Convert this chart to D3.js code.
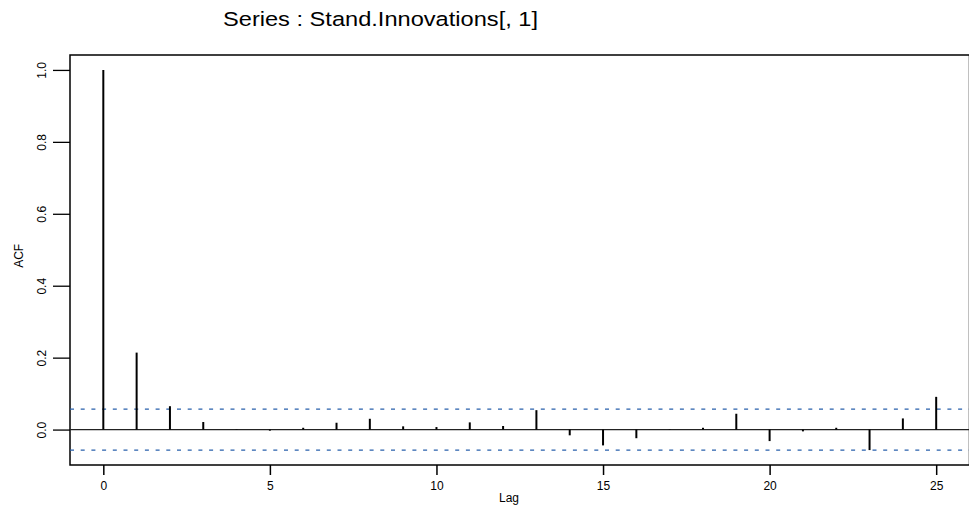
<!DOCTYPE html>
<html>
<head>
<meta charset="utf-8">
<script src="https://cdn.jsdelivr.net/npm/d3@7"></script>
<style>
  html, body { margin: 0; padding: 0; background: #fff; }
  svg { display: block; }
  text { font-family: "Liberation Sans", Arial, sans-serif; fill: #000; }
</style>
</head>
<body>
<svg id="chart" width="969" height="508"></svg>
<script>
// Autocorrelation of standardized innovations
const titleText = "Series : Stand.Innovations[, 1]";
const lags = d3.range(0, 26);
const acfValues = [1.0, 0.214, 0.065, 0.021, 0.001, -0.003, 0.005, 0.019, 0.030, 0.009,
                   0.007, 0.020, 0.010, 0.054, -0.016, -0.044, -0.024, -0.001, 0.005, 0.044,
                   -0.032, -0.005, 0.005, -0.057, 0.031, 0.091];
const ciBound = 0.057;
const xTicks = [0, 5, 10, 15, 20, 25];
const yTicks = [0.0, 0.2, 0.4, 0.6, 0.8, 1.0];

const svg = d3.select("#chart");
const plotLeft = 70, plotRight = 969.5, plotTop = 55, plotBottom = 465;

const x = d3.scaleLinear().domain([-1, 26]).range([plotLeft, plotRight]);
const y = d3.scaleLinear().domain([-0.0985, 1.0415]).range([plotBottom, plotTop]);

// title (wide, stretched horizontally)
svg.append("text")
  .attr("x", 223).attr("y", 26)
  .attr("font-size", 20.5)
  .attr("textLength", 315)
  .attr("lengthAdjust", "spacingAndGlyphs")
  .text(titleText);

// frame
svg.append("rect")
  .attr("x", plotLeft).attr("y", plotTop)
  .attr("width", plotRight - plotLeft).attr("height", plotBottom - plotTop)
  .attr("fill", "none").attr("stroke", "#000").attr("stroke-width", 1.5);

// zero line
svg.append("line")
  .attr("x1", plotLeft).attr("x2", plotRight)
  .attr("y1", y(0)).attr("y2", y(0))
  .attr("stroke", "#222").attr("stroke-width", 1.2);

// confidence bounds
[ciBound, -ciBound].forEach(v => {
  svg.append("line")
    .attr("x1", plotLeft).attr("x2", plotRight)
    .attr("y1", y(v)).attr("y2", y(v))
    .attr("stroke", "#2860ac").attr("stroke-width", 1.3)
    .attr("stroke-dasharray", "4,6.7");
});

// spikes
svg.append("g").selectAll("line")
  .data(lags)
  .join("line")
  .attr("x1", d => x(d)).attr("x2", d => x(d))
  .attr("y1", y(0))
  .attr("y2", d => y(acfValues[d]))
  .attr("stroke", "#000").attr("stroke-width", 2);

// x axis
const xAxis = d3.axisBottom(x).tickValues(xTicks).tickFormat(d3.format("d"))
  .tickSize(10).tickPadding(6);
const gx = svg.append("g").attr("transform", `translate(0,${plotBottom})`).call(xAxis);
gx.select(".domain").remove();
gx.selectAll(".tick line").attr("stroke", "#000").attr("stroke-width", 1.5);
gx.selectAll(".tick text").attr("font-size", 12).attr("font-family", "Liberation Sans, Arial, sans-serif");

// y axis
const yAxis = d3.axisLeft(y).tickValues(yTicks).tickFormat(d3.format(".1f"))
  .tickSize(17).tickPadding(0);
const gy = svg.append("g").attr("transform", `translate(${plotLeft},0)`).call(yAxis);
gy.select(".domain").remove();
gy.selectAll(".tick line").attr("stroke", "#000").attr("stroke-width", 1.3);
gy.selectAll(".tick text")
  .attr("font-size", 12).attr("font-family", "Liberation Sans, Arial, sans-serif")
  .attr("text-anchor", "middle")
  .attr("x", 0).attr("y", 0).attr("dy", 0)
  .attr("transform", "translate(-28,0) rotate(-90)")
  .attr("dominant-baseline", "central");

// axis titles
svg.append("text")
  .attr("x", 509).attr("y", 502)
  .attr("text-anchor", "middle").attr("font-size", 12)
  .text("Lag");
svg.append("text")
  .attr("transform", `translate(23,${y(0.483)}) rotate(-90)`)
  .attr("text-anchor", "middle").attr("font-size", 12)
  .text("ACF");
</script>
</body>
</html>
